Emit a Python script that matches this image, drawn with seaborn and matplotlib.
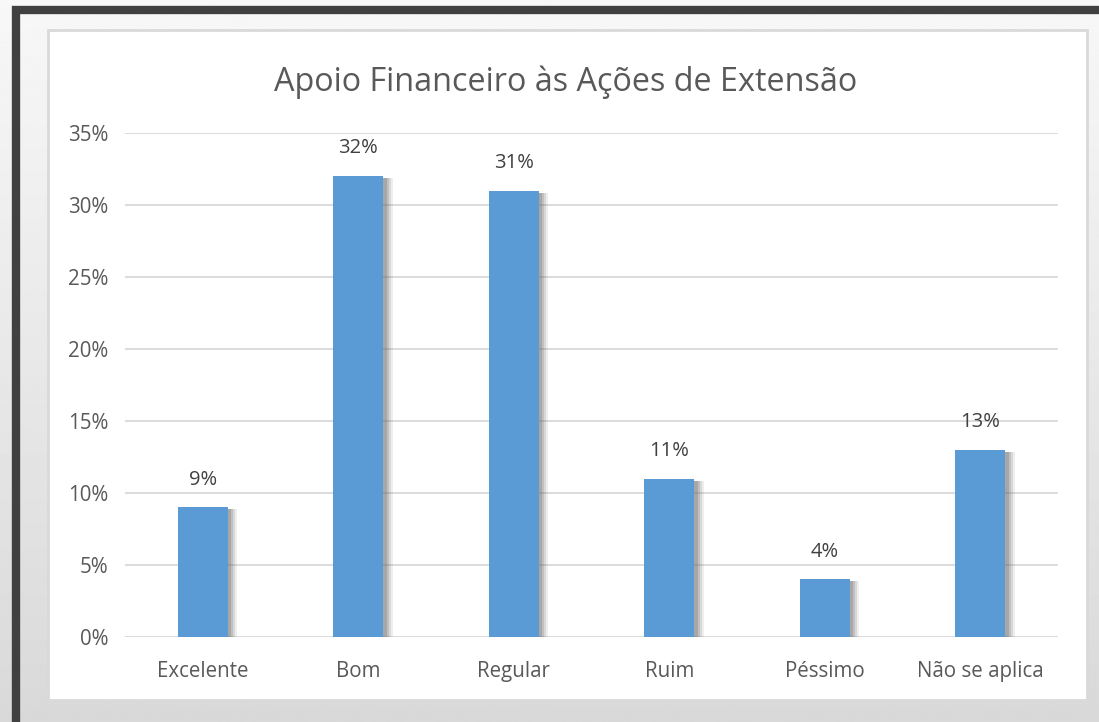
import matplotlib
matplotlib.use("Agg")
import matplotlib.pyplot as plt
import matplotlib.patheffects as pe
from matplotlib.patches import Rectangle
import numpy as np
import pandas as pd
import seaborn as sns

# chart data
categories = ["Excelente", "Bom", "Regular", "Ruim", "Péssimo", "Não se aplica"]
values = [0.09, 0.32, 0.31, 0.11, 0.04, 0.13]
y_ticks = [0, 0.05, 0.10, 0.15, 0.20, 0.25, 0.30, 0.35]

df = pd.DataFrame({"categoria": categories, "valor": values})

sns.set_theme(style="white")
plt.rcParams["font.family"] = ["Open Sans", "DejaVu Sans"]

fig = plt.figure(figsize=(10.99, 7.22), dpi=100)
fig.patch.set_facecolor("#e8e8e8")

# slide background: soft vertical gradient
bg = fig.add_axes([0, 0, 1, 1], zorder=-5)
grad = np.linspace(0.97, 0.85, 256).reshape(-1, 1)
bg.imshow(grad, aspect="auto", cmap="gray", vmin=0, vmax=1, extent=(0, 1, 0, 1))
bg.set_axis_off()

# dark frame (left and top edges) + white chart area
fig.patches.append(Rectangle((15.5 / 1099, -0.1), 1.2, 1 - 10 / 722 + 0.1, transform=fig.transFigure,
                             facecolor="none", edgecolor="#404040", lw=6, zorder=1))
fig.patches.append(Rectangle((48 / 1099, 22 / 722), 1039 / 1099, 670 / 722,
                             transform=fig.transFigure, facecolor="white",
                             edgecolor="#d9d9d9", lw=2, zorder=1))

ax = fig.add_axes([125 / 1099, 85 / 722, 933 / 1099, 504 / 722], zorder=2)
ax.set_facecolor("none")

sns.barplot(data=df, x="categoria", y="valor", color="#5b9bd5", width=0.32,
            saturation=1, linewidth=0, ax=ax, zorder=3)

shadow = [pe.SimplePatchShadow(offset=(o, -1.5), shadow_rgbFace="#606060", alpha=a)
          for o, a in [(7, 0.10), (5.5, 0.15), (4, 0.2), (2.5, 0.25)]]
for bar in ax.patches:
    bar.set_path_effects(shadow + [pe.Normal()])

for bar, v in zip(ax.patches, values):
    ax.annotate(f"{v * 100:.0f}%", (bar.get_x() + bar.get_width() / 2, v),
                xytext=(0, 20), textcoords="offset points", ha="center", va="center",
                fontsize=14.5, color="#404040")

ax.set_ylim(0, 0.35)
ax.set_yticks(y_ticks)
ax.set_yticklabels([f"{t * 100:.0f}%" for t in y_ticks])
ax.yaxis.grid(True, color="#d9d9d9", lw=1.3)
ax.set_axisbelow(True)
for s in ax.spines.values():
    s.set_visible(False)
ax.tick_params(axis="both", length=0, labelsize=14.8, colors="#595959")
ax.tick_params(axis="y", pad=12)
ax.tick_params(axis="x", pad=17)
ax.set_xlabel("")
ax.set_ylabel("")

fig.text(566 / 1099, 1 - 82 / 722, "Apoio Financeiro às Ações de Extensão",
         ha="center", va="center", fontsize=23.3, color="#595959")

fig.savefig("out.png", dpi=100)
